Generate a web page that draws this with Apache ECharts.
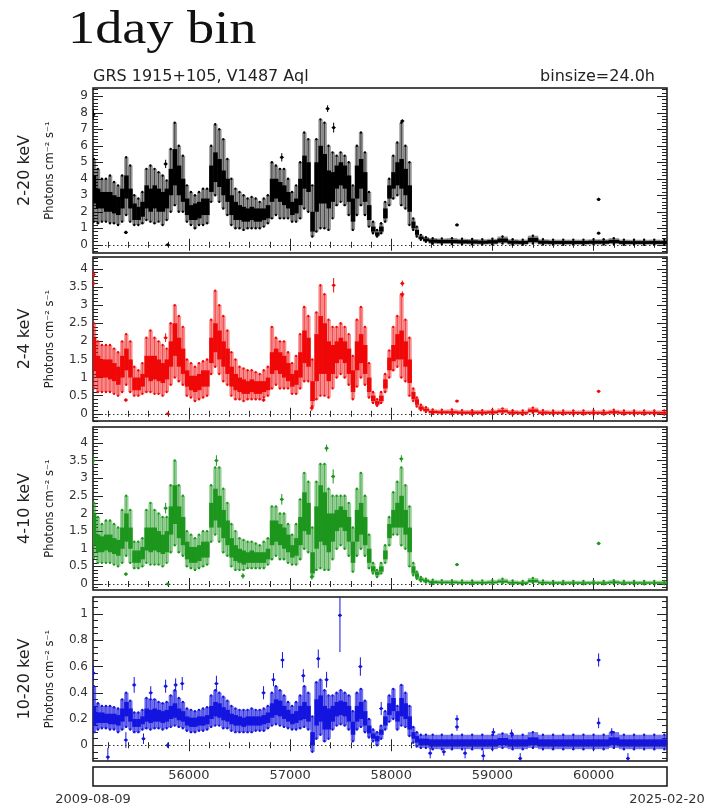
<!DOCTYPE html>
<html><head><meta charset="utf-8">
<script src="https://cdn.jsdelivr.net/npm/echarts@6/dist/echarts.min.js"></script>
<style>html,body{margin:0;padding:0;background:#fff}#c{width:706px;height:805px}</style>
</head><body><div id="c"></div>
<script>
// ---------------- data ----------------
const MJD_MIN = 55052, MJD_MAX = 60726;
const xMajorTicks = [56000, 57000, 58000, 59000, 60000];
const bandNames = ['2-20 keV', '2-4 keV', '4-10 keV', '10-20 keV'];
const yTicks_2_20 = [0,1,2,3,4,5,6,7,8,9];
const yTicks_2_4 = [0,0.5,1,1.5,2,2.5,3,3.5,4];
const yTicks_4_10 = [0,0.5,1,1.5,2,2.5,3,3.5,4];
const yTicks_10_20 = [0,0.2,0.4,0.6,0.8,1];

// time bins (MJD) of the daily light curve, summarised as [low, core-low, core-high, high]
const binMjd = [55060,55100,55140,55180,55220,55260,55300,55340,55380,55420,55460,55500,55540,55580,55620,55660,55700,55740,55780,55820,55860,55900,55940,55980,56020,56060,56100,56140,56180,56220,56260,56300,56340,56380,56420,56460,56500,56540,56580,56620,56660,56700,56740,56780,56820,56860,56900,56940,56980,57020,57060,57100,57140,57180,57220,57260,57300,57340,57380,57420,57460,57500,57540,57580,57620,57660,57700,57740,57780,57820,57860,57900,57940,57980,58020,58060,58100,58140,58180,58220,58250,58290,58340,58400,58500,58600,58700,58800,58900,59000,59100,59200,59300,59400,59500,59600,59700,59800,59900,60000,60100,60200,60300,60400,60500,60600,60700];

const flux_2_20 = [
[1.4,2.5,4.2,5.2],[1.3,2.2,3.4,4.6],[1.4,2.2,3.2,4.0],[1.4,2.0,3.2,4.0],[1.3,2.0,3.2,4.2],[1.3,1.9,3.0,3.8],[1.2,1.8,2.9,3.6],[1.4,2.2,3.4,4.2],[1.8,2.8,4.2,5.3],[1.4,2.2,3.4,4.8],
[1.2,1.5,2.5,3.0],[1.2,1.5,2.3,2.8],[1.3,1.7,2.6,3.2],[1.5,2.2,3.6,4.6],[1.4,2.0,3.4,4.8],[1.3,2.2,3.6,4.6],[1.4,2.0,3.4,4.4],[1.2,2.0,3.2,4.2],[1.5,2.2,3.4,3.9],[2.0,3.0,4.6,5.8],
[2.4,3.6,5.8,7.4],[2.0,3.0,4.8,6.0],[2.0,2.6,4.0,5.4],[1.4,1.8,2.8,3.6],[1.2,1.5,2.4,3.2],[1.0,1.5,2.5,3.0],[1.2,1.6,2.6,3.2],[1.2,1.8,2.8,3.4],[1.3,1.8,2.8,3.4],[2.6,3.2,4.8,6.0],
[3.0,3.8,5.6,7.3],[2.6,3.5,5.2,7.0],[2.2,3.0,4.5,6.4],[1.8,2.6,4.0,5.2],[1.2,1.8,3.0,4.0],[1.0,1.5,2.6,3.4],[1.0,1.5,2.4,3.2],[0.9,1.4,2.3,3.0],[1.0,1.4,2.2,2.8],[1.0,1.5,2.3,2.9],
[1.0,1.4,2.2,2.8],[1.0,1.4,2.2,2.6],[1.1,1.5,2.2,2.8],[1.3,1.6,2.4,3.0],[1.6,2.6,4.0,5.0],[1.8,2.8,4.0,4.8],[1.6,2.6,3.8,4.6],[1.6,2.4,3.6,4.6],[1.6,2.2,3.2,4.0],[1.4,1.8,2.6,3.2],
[1.4,1.9,2.8,3.6],[1.6,2.4,4.0,5.0],[2.2,3.4,5.4,6.8],[2.0,3.2,5.0,6.4],[0.5,0.8,2.0,3.6],[0.8,2.0,5.0,6.4],[1.0,2.5,6.0,7.6],[1.0,2.5,5.5,7.4],[0.9,2.2,4.5,6.0],[1.6,2.6,4.4,5.6],
[2.4,3.4,4.8,5.4],[2.6,3.6,5.0,5.6],[2.4,3.4,4.8,5.4],[1.8,2.6,4.2,5.0],[0.9,1.4,2.8,3.6],[1.8,2.8,4.8,6.0],[2.4,3.4,5.2,6.8],[1.8,2.6,4.4,5.6],[1.1,1.5,2.4,3.2],[0.7,0.8,1.1,1.4],
[0.5,0.55,0.75,0.9],[0.7,0.8,1.1,1.3],[1.4,1.6,2.2,2.6],[2.4,2.8,3.6,4.0],[2.8,3.4,4.4,5.4],[3.0,3.6,5.0,6.2],[2.4,3.4,5.2,7.4],[2.2,3.0,4.6,6.0],[1.2,2.0,3.6,5.0],[0.9,1.0,1.4,1.6],
[0.5,0.6,0.9,1.1],[0.3,0.35,0.5,0.6],[0.18,0.22,0.38,0.46],
[0.06,0.12,0.32,0.40],[0.04,0.10,0.30,0.38],[0.04,0.10,0.30,0.40],[0.03,0.08,0.28,0.36],[0.02,0.07,0.27,0.35],[0.01,0.06,0.25,0.33],[0.02,0.07,0.28,0.36],[0.08,0.14,0.38,0.50],
[0.0,0.06,0.25,0.33],[0.0,0.05,0.23,0.31],[0.08,0.16,0.42,0.55],[0.01,0.06,0.25,0.33],[0.0,0.05,0.23,0.31],[0.0,0.05,0.23,0.31],[0.0,0.05,0.23,0.31],[0.0,0.05,0.23,0.31],
[0.01,0.06,0.25,0.33],[0.01,0.06,0.25,0.33],[0.04,0.10,0.30,0.40],[0.0,0.05,0.23,0.31],[0.0,0.05,0.22,0.30],[0.0,0.05,0.22,0.30],[0.0,0.05,0.23,0.31],[0.0,0.05,0.22,0.30]
];

const flux_2_4 = [
[0.7,1.2,2.1,2.5],[0.6,1.0,1.6,2.0],[0.6,1.0,1.5,1.9],[0.6,1.0,1.5,1.9],[0.6,0.95,1.5,1.9],[0.55,0.9,1.4,1.8],[0.5,0.8,1.3,1.7],[0.6,1.0,1.6,2.0],[0.8,1.2,1.8,2.2],[0.6,1.0,1.5,2.0],
[0.5,0.65,1.0,1.3],[0.5,0.65,1.0,1.2],[0.55,0.75,1.1,1.4],[0.6,1.0,1.6,2.1],[0.6,0.9,1.6,2.3],[0.55,0.95,1.6,2.1],[0.55,0.9,1.5,2.0],[0.5,0.85,1.4,1.9],[0.6,0.95,1.5,1.8],[0.8,1.3,2.0,2.5],
[1.0,1.6,2.5,3.0],[0.9,1.3,2.1,2.7],[0.8,1.1,1.8,2.4],[0.5,0.75,1.2,1.5],[0.45,0.65,1.05,1.4],[0.35,0.6,1.05,1.3],[0.4,0.65,1.1,1.4],[0.45,0.75,1.2,1.45],[0.5,0.75,1.2,1.5],[1.1,1.4,2.1,2.6],
[1.3,1.7,2.5,3.4],[1.1,1.5,2.3,3.0],[0.9,1.3,2.0,2.7],[0.8,1.1,1.8,2.3],[0.5,0.75,1.3,1.7],[0.4,0.65,1.1,1.5],[0.4,0.6,1.0,1.3],[0.35,0.55,0.95,1.25],[0.4,0.55,0.9,1.2],[0.4,0.6,0.95,1.2],
[0.4,0.55,0.9,1.15],[0.4,0.55,0.9,1.1],[0.45,0.6,0.9,1.2],[0.5,0.65,1.0,1.3],[0.7,1.1,1.7,2.4],[0.8,1.2,1.8,2.1],[0.7,1.1,1.7,2.0],[0.7,1.0,1.6,2.0],[0.7,0.9,1.4,1.7],[0.55,0.75,1.1,1.4],
[0.55,0.8,1.2,1.6],[0.7,1.0,1.7,2.2],[0.9,1.4,2.3,2.95],[0.9,1.3,2.1,2.7],[0.2,0.35,0.9,1.5],[0.4,0.9,2.2,2.8],[0.5,1.1,2.7,3.55],[0.5,1.1,2.5,3.3],[0.45,0.9,2.0,2.6],[0.7,1.1,1.9,2.4],
[1.0,1.4,2.0,2.4],[1.1,1.5,2.1,2.5],[1.0,1.4,2.0,2.4],[0.8,1.1,1.8,2.2],[0.4,0.6,1.2,1.6],[0.75,1.2,2.0,2.6],[1.0,1.4,2.2,2.95],[0.8,1.1,1.9,2.4],[0.45,0.6,1.0,1.4],[0.3,0.35,0.5,0.6],
[0.22,0.25,0.35,0.4],[0.3,0.35,0.5,0.6],[0.6,0.7,0.95,1.1],[1.0,1.2,1.55,1.75],[1.2,1.45,1.9,2.4],[1.3,1.5,2.2,2.7],[1.0,1.5,2.3,3.3],[0.9,1.3,2.0,2.6],[0.5,0.85,1.5,2.1],[0.35,0.4,0.6,0.7],
[0.2,0.25,0.4,0.45],[0.1,0.12,0.2,0.25],[0.05,0.08,0.14,0.18],
[0.00,0.02,0.08,0.12],[-0.01,0.01,0.07,0.11],[-0.01,0.01,0.07,0.12],[-0.02,0.00,0.06,0.10],[-0.02,0.00,0.06,0.10],[-0.02,0.00,0.06,0.10],[-0.01,0.01,0.07,0.11],[0.01,0.04,0.10,0.15],
[-0.02,0.00,0.06,0.10],[-0.03,0.00,0.05,0.09],[0.02,0.05,0.12,0.17],[-0.02,0.00,0.06,0.10],[-0.02,0.00,0.05,0.09],[-0.02,0.00,0.05,0.09],[-0.02,0.00,0.05,0.09],[-0.02,0.00,0.05,0.09],
[-0.02,0.00,0.05,0.09],[-0.02,0.00,0.05,0.09],[-0.01,0.01,0.07,0.11],[-0.02,0.00,0.05,0.09],[-0.02,0.00,0.05,0.09],[-0.02,0.00,0.05,0.09],[-0.02,0.00,0.05,0.09],[-0.02,0.00,0.05,0.09]
];

const flux_4_10 = [
[0.75,1.1,2.0,2.3],[0.6,0.9,1.4,1.9],[0.6,0.9,1.35,1.7],[0.6,0.95,1.4,1.8],[0.6,0.9,1.4,1.8],[0.55,0.85,1.3,1.7],[0.5,0.8,1.25,1.6],[0.6,1.0,1.6,2.1],[0.8,1.2,2.0,2.5],[0.6,1.0,1.6,2.1],
[0.45,0.6,0.95,1.2],[0.45,0.6,0.95,1.2],[0.5,0.7,1.05,1.3],[0.6,0.95,1.6,2.1],[0.55,0.9,1.6,2.3],[0.55,0.95,1.6,2.1],[0.55,0.9,1.5,2.0],[0.5,0.85,1.4,1.9],[0.6,0.9,1.5,1.9],[0.9,1.4,2.2,2.8],
[1.1,1.7,2.8,3.5],[0.9,1.3,2.2,2.8],[0.8,1.1,1.9,2.5],[0.5,0.7,1.2,1.5],[0.45,0.6,1.05,1.4],[0.4,0.6,1.05,1.3],[0.45,0.65,1.1,1.4],[0.5,0.75,1.2,1.5],[0.55,0.75,1.2,1.5],[1.2,1.6,2.3,2.8],
[1.4,1.8,2.7,3.3],[1.2,1.6,2.5,3.3],[0.9,1.3,2.1,2.7],[0.8,1.1,1.8,2.3],[0.5,0.75,1.3,1.7],[0.4,0.65,1.1,1.5],[0.4,0.6,1.0,1.3],[0.4,0.55,0.95,1.25],[0.45,0.6,0.9,1.2],[0.45,0.6,0.95,1.2],
[0.45,0.6,0.9,1.15],[0.45,0.6,0.9,1.1],[0.45,0.6,0.9,1.2],[0.55,0.7,1.0,1.3],[0.7,1.1,1.8,2.2],[0.8,1.2,1.8,2.2],[0.7,1.1,1.7,2.0],[0.7,1.0,1.6,2.0],[0.6,0.9,1.4,1.7],[0.55,0.75,1.1,1.4],
[0.55,0.8,1.3,1.7],[0.7,1.1,1.9,2.4],[1.0,1.5,2.6,3.15],[0.9,1.4,2.3,2.9],[0.2,0.3,0.9,1.6],[0.4,1.0,2.2,2.9],[0.45,1.2,2.8,3.4],[0.4,1.1,2.6,3.4],[0.4,0.9,2.0,2.7],[0.7,1.2,2.0,2.5],
[1.0,1.5,2.1,2.5],[1.1,1.6,2.2,2.5],[1.0,1.5,2.1,2.5],[0.8,1.2,1.9,2.3],[0.35,0.6,1.2,1.6],[0.8,1.2,2.1,2.7],[1.0,1.4,2.3,3.15],[0.8,1.1,1.9,2.5],[0.45,0.6,1.0,1.4],[0.3,0.35,0.5,0.6],
[0.2,0.25,0.35,0.4],[0.3,0.35,0.5,0.6],[0.6,0.7,0.95,1.1],[1.1,1.3,1.7,1.9],[1.4,1.6,2.1,2.6],[1.4,1.6,2.3,2.9],[1.1,1.6,2.5,3.3],[1.0,1.4,2.1,2.8],[0.5,0.9,1.6,2.2],[0.25,0.3,0.5,0.6],
[0.15,0.18,0.3,0.35],[0.08,0.1,0.16,0.2],[0.04,0.06,0.12,0.15],
[0.00,0.02,0.08,0.12],[0.00,0.02,0.07,0.11],[0.00,0.02,0.07,0.11],[-0.01,0.01,0.06,0.10],[-0.01,0.01,0.06,0.10],[-0.01,0.01,0.06,0.10],[0.00,0.02,0.07,0.11],[0.02,0.04,0.10,0.15],
[-0.01,0.01,0.06,0.10],[-0.02,0.00,0.05,0.09],[0.03,0.05,0.12,0.17],[-0.01,0.01,0.06,0.10],[-0.01,0.01,0.05,0.09],[-0.01,0.01,0.05,0.09],[-0.01,0.01,0.05,0.09],[-0.01,0.01,0.05,0.09],
[-0.01,0.01,0.05,0.09],[-0.01,0.01,0.05,0.09],[0.00,0.02,0.07,0.11],[-0.01,0.01,0.05,0.09],[-0.01,0.01,0.05,0.09],[-0.01,0.01,0.05,0.09],[-0.01,0.01,0.05,0.09],[-0.01,0.01,0.05,0.09]
];

const flux_10_20 = [
[0.1,0.15,0.3,0.45],[0.12,0.17,0.25,0.32],[0.13,0.17,0.25,0.3],[0.13,0.17,0.24,0.3],[0.12,0.16,0.24,0.3],[0.12,0.16,0.24,0.29],[0.1,0.15,0.23,0.28],[0.12,0.18,0.28,0.35],[0.14,0.22,0.33,0.4],[0.12,0.18,0.28,0.34],
[0.1,0.14,0.2,0.25],[0.1,0.14,0.2,0.25],[0.12,0.16,0.22,0.27],[0.13,0.18,0.28,0.36],[0.12,0.17,0.27,0.35],[0.13,0.18,0.28,0.35],[0.13,0.18,0.27,0.33],[0.12,0.17,0.26,0.32],[0.13,0.18,0.27,0.33],[0.14,0.2,0.3,0.38],
[0.15,0.21,0.32,0.42],[0.14,0.19,0.28,0.36],[0.13,0.18,0.26,0.33],[0.11,0.15,0.22,0.28],[0.1,0.14,0.21,0.27],[0.1,0.14,0.21,0.26],[0.11,0.15,0.22,0.27],[0.11,0.15,0.22,0.28],[0.12,0.16,0.23,0.29],[0.14,0.2,0.3,0.38],
[0.15,0.22,0.33,0.42],[0.15,0.21,0.32,0.4],[0.13,0.19,0.29,0.37],[0.13,0.18,0.27,0.34],[0.11,0.16,0.24,0.3],[0.1,0.15,0.23,0.28],[0.1,0.15,0.22,0.27],[0.1,0.14,0.21,0.27],[0.1,0.15,0.22,0.27],[0.1,0.15,0.22,0.28],
[0.11,0.15,0.22,0.27],[0.11,0.15,0.22,0.27],[0.11,0.16,0.23,0.28],[0.13,0.17,0.25,0.3],[0.15,0.21,0.32,0.4],[0.16,0.23,0.35,0.45],[0.15,0.22,0.34,0.42],[0.14,0.2,0.3,0.38],[0.13,0.18,0.27,0.33],[0.12,0.16,0.24,0.3],
[0.12,0.17,0.26,0.33],[0.13,0.19,0.3,0.38],[0.14,0.2,0.33,0.45],[0.12,0.18,0.3,0.4],[-0.05,0.0,0.1,0.22],[0.05,0.15,0.35,0.48],[0.08,0.18,0.38,0.5],[0.03,0.12,0.3,0.42],[0.05,0.12,0.28,0.38],[0.12,0.18,0.3,0.38],
[0.15,0.22,0.33,0.4],[0.16,0.23,0.34,0.42],[0.15,0.22,0.33,0.4],[0.12,0.18,0.3,0.38],[0.03,0.08,0.18,0.26],[0.12,0.18,0.3,0.4],[0.14,0.2,0.33,0.43],[0.1,0.15,0.26,0.34],[0.06,0.09,0.15,0.2],[0.03,0.05,0.09,0.12],
[0.0,0.03,0.07,0.1],[0.05,0.08,0.12,0.15],[0.12,0.15,0.22,0.26],[0.18,0.23,0.32,0.38],[0.2,0.26,0.36,0.43],[0.12,0.18,0.26,0.3],[0.15,0.22,0.36,0.46],[0.14,0.2,0.32,0.4],[0.07,0.12,0.22,0.3],[0.02,0.05,0.1,0.14],
[-0.01,0.02,0.07,0.1],[-0.02,0.0,0.05,0.08],[-0.02,0.0,0.05,0.08],
[-0.03,-0.01,0.045,0.08],[-0.03,-0.01,0.045,0.08],[-0.03,-0.01,0.045,0.08],[-0.03,-0.01,0.045,0.08],[-0.03,-0.01,0.045,0.08],[-0.03,-0.01,0.045,0.08],[-0.03,-0.01,0.045,0.08],[-0.02,0.0,0.055,0.09],
[-0.03,-0.01,0.045,0.08],[-0.03,-0.01,0.045,0.08],[-0.02,0.0,0.06,0.1],[-0.03,-0.01,0.045,0.08],[-0.03,-0.01,0.045,0.08],[-0.03,-0.01,0.045,0.08],[-0.03,-0.01,0.045,0.08],[-0.03,-0.01,0.045,0.08],
[-0.03,-0.01,0.045,0.08],[-0.03,-0.01,0.045,0.08],[-0.02,0.0,0.06,0.1],[-0.03,-0.01,0.045,0.08],[-0.03,-0.01,0.045,0.08],[-0.03,-0.01,0.045,0.08],[-0.03,-0.01,0.045,0.08],[-0.03,-0.01,0.045,0.08]
];

// isolated daily points [MJD, flux, error]
const pts_2_20 = [[55056,7.9,0.3],[55377,0.75,0.1],[55790,0.0,0.05],[55770,4.9,0.25],[56918,5.3,0.25],[57371,8.25,0.2],[57431,7.1,0.3],[58110,7.5,0.1],[58650,1.2,0.05],[60050,2.75,0.1],[60050,0.7,0.05]];
const pts_2_4 = [[55055,3.6,0.1],[55058,3.85,0.1],[55377,0.38,0.05],[55790,0.0,0.03],[55770,2.1,0.12],[56738,0.38,0.05],[57215,0.16,0.08],[57431,3.55,0.2],[58110,3.6,0.08],[58110,3.3,0.08],[58650,0.35,0.03],[60050,0.62,0.04]];
const pts_4_10 = [[55055,3.5,0.15],[55377,0.28,0.05],[55790,0.0,0.04],[55770,2.15,0.15],[56272,3.5,0.15],[56534,0.23,0.08],[56918,2.4,0.15],[57215,0.2,0.08],[57361,3.85,0.1],[57426,3.05,0.2],[58100,3.55,0.1],[58650,0.55,0.03],[60050,1.15,0.05]];
const pts_10_20 = [[55056,0.55,0.06],[55199,-0.09,0.07],[55377,0.04,0.06],[55459,0.46,0.06],[55551,0.05,0.04],[55623,0.4,0.05],[55770,0.45,0.05],[55790,0.0,0.02],[55869,0.46,0.05],[55934,0.47,0.05],[56272,0.47,0.06],[56738,0.4,0.05],[56836,0.5,0.05],[56925,0.65,0.06],[57131,0.53,0.05],[57279,0.66,0.07],[57361,0.5,0.06],[57493,0.99,0.28],[57695,0.6,0.07],[57901,0.28,0.05],
[58385,-0.06,0.04],[58520,-0.05,0.03],[58650,0.2,0.03],[58650,0.14,0.03],[58730,-0.06,0.04],[58910,-0.08,0.04],[59010,0.1,0.03],[59190,0.09,0.03],[59275,-0.1,0.04],[60050,0.65,0.05],[60050,0.17,0.04],[60180,0.1,0.03],[60340,-0.1,0.04]];

// ---------------- chart ----------------
const FONT = 'DejaVu Sans';
const panels = [
  {name: bandNames[0], color: '#000000', env: 0.42, bins: flux_2_20, pts: pts_2_20, ymin: -0.5, ymax: 9.5, ticks: yTicks_2_20, minor: 0.2, top: 88, height: 165},
  {name: bandNames[1], color: '#f00808', env: 0.45, bins: flux_2_4, pts: pts_2_4, ymin: -0.2, ymax: 4.33, ticks: yTicks_2_4, minor: 0.1, top: 257, height: 164},
  {name: bandNames[2], color: '#1c961c', env: 0.45, bins: flux_4_10, pts: pts_4_10, ymin: -0.17, ymax: 4.45, ticks: yTicks_4_10, minor: 0.1, top: 427, height: 163},
  {name: bandNames[3], color: '#1414e0', env: 0.6, bins: flux_10_20, pts: pts_10_20, ymin: -0.12, ymax: 1.13, ticks: yTicks_10_20, minor: 0.05, top: 597, height: 164}
];
const GL = 93, GR = 39;

function stepValues(min, max, step) {
  const out = [];
  for (let v = Math.ceil(min / step) * step; v <= max + 1e-9; v += step) out.push(Math.round(v * 1000) / 1000);
  return out;
}
const xMinorTicks = stepValues(MJD_MIN, MJD_MAX, 200);

function mjdToDate(m) {
  return new Date(Math.round((m - 40587) * 86400000)).toISOString().slice(0, 10);
}

function bandRender(rows, color, env) {
  return function (params, api) {
    const i = params.dataIndex;
    const t = rows[i][0];
    const tp = i > 0 ? rows[i - 1][0] : 2 * t - rows[i + 1][0];
    const tn = i < rows.length - 1 ? rows[i + 1][0] : 2 * t - rows[i - 1][0];
    const xl = api.coord([(tp + t) / 2, 0])[0];
    const xr = api.coord([(tn + t) / 2, 0])[0];
    const yLo = api.coord([t, rows[i][1]])[1];
    const yQlo = api.coord([t, rows[i][2]])[1];
    const yQhi = api.coord([t, rows[i][3]])[1];
    const yHi = api.coord([t, rows[i][4]])[1];
    const w = xr - xl;
    const xc = (xl + xr) / 2;
    const ch = [];
    ch.push({type: 'rect', shape: {x: xl, y: yHi, width: w + 0.3, height: yLo - yHi}, style: {fill: color, opacity: env}});
    ch.push({type: 'line', shape: {x1: xc, y1: yHi, x2: xc, y2: yLo}, style: {stroke: color, lineWidth: 0.8, opacity: 0.7}});
    ch.push({type: 'rect', shape: {x: xl, y: yQhi, width: w + 0.5, height: Math.max(1.5, yQlo - yQhi)}, style: {fill: color}});
    ch.push({type: 'circle', shape: {cx: xc, cy: yHi, r: 1.2}, style: {fill: color}});
    ch.push({type: 'circle', shape: {cx: xc, cy: yLo, r: 1.2}, style: {fill: color}});
    return {type: 'group', children: ch};
  };
}
function errRender(color) {
  return function (params, api) {
    const t = api.value(0), v = api.value(1), e = api.value(2);
    const p = api.coord([t, v]);
    const y1 = api.coord([t, v + e])[1], y2 = api.coord([t, v - e])[1];
    return {type: 'group', children: [
      {type: 'line', shape: {x1: p[0], y1: y1, x2: p[0], y2: y2}, style: {stroke: color, lineWidth: 1}},
      {type: 'line', shape: {x1: p[0] - 2, y1: p[1], x2: p[0] + 2, y2: p[1]}, style: {stroke: color, lineWidth: 1}},
      {type: 'circle', shape: {cx: p[0], cy: p[1], r: 1.6}, style: {fill: color}}
    ]};
  };
}

const grid = [], xAxis = [], yAxis = [], series = [];
const tickLine = {color: '#222', width: 1};
const labelStyle = {fontFamily: FONT, fontSize: 12, color: '#333'};
const plain = v => String(v);

panels.forEach((p, gi) => {
  grid.push({left: GL, right: GR, top: p.top, height: p.height, show: true, borderColor: '#111', borderWidth: 1.5, backgroundColor: 'transparent', outerBoundsMode: 'none'});
  const xi = xAxis.length, yi = yAxis.length;
  const xBase = {gridIndex: gi, type: 'value', min: MJD_MIN, max: MJD_MAX, axisLine: {show: false}, axisLabel: {show: false}, splitLine: {show: false}};
  ['bottom', 'top'].forEach(pos => {
    xAxis.push(Object.assign({}, xBase, {position: pos, axisTick: {show: true, inside: true, length: 6, lineStyle: tickLine, customValues: xMajorTicks}}));
    xAxis.push(Object.assign({}, xBase, {position: pos, axisTick: {show: true, inside: true, length: 3, lineStyle: tickLine, customValues: xMinorTicks}}));
  });
  const yBase = {gridIndex: gi, type: 'value', min: p.ymin, max: p.ymax, axisLine: {show: false}, splitLine: {show: false}};
  yAxis.push(Object.assign({}, yBase, {position: 'left', axisTick: {show: true, inside: true, length: 10, lineStyle: tickLine, customValues: p.ticks},
    axisLabel: Object.assign({show: true, margin: 5, customValues: p.ticks, formatter: plain}, labelStyle),
    name: p.name, nameLocation: 'middle', nameRotate: 90, nameGap: 60, nameTextStyle: {fontFamily: FONT, fontSize: 16, color: '#222'}}));
  yAxis.push(Object.assign({}, yBase, {position: 'left', axisTick: {show: true, inside: true, length: 5, lineStyle: tickLine, customValues: stepValues(p.ymin, p.ymax, p.minor)},
    axisLabel: {show: false},
    name: 'Photons cm\u207B\u00B2 s\u207B\u00B9', nameLocation: 'middle', nameRotate: 90, nameGap: 37, nameTextStyle: {fontFamily: FONT, fontSize: 11.5, color: '#222'}}));
  yAxis.push(Object.assign({}, yBase, {position: 'right', axisTick: {show: true, inside: true, length: 10, lineStyle: tickLine, customValues: p.ticks}, axisLabel: {show: false}}));
  yAxis.push(Object.assign({}, yBase, {position: 'right', axisTick: {show: true, inside: true, length: 5, lineStyle: tickLine, customValues: stepValues(p.ymin, p.ymax, p.minor)}, axisLabel: {show: false}}));

  const rows = binMjd.map((t, i) => [t].concat(p.bins[i]));
  series.push({type: 'line', xAxisIndex: xi, yAxisIndex: yi, data: [], silent: true, z: 1,
    markLine: {silent: true, symbol: 'none', label: {show: false}, lineStyle: {type: [1.5, 2.5], color: '#333', width: 1}, data: [{yAxis: 0}]}});
  series.push({type: 'custom', xAxisIndex: xi, yAxisIndex: yi, clip: true, z: 3, silent: true,
    renderItem: bandRender(rows, p.color, p.env), encode: {x: 0, y: [1, 4]}, data: rows});
  series.push({type: 'custom', xAxisIndex: xi, yAxisIndex: yi, clip: true, z: 4, silent: true,
    renderItem: errRender(p.color), encode: {x: 0, y: 1}, data: p.pts});
});

// bottom strip with MJD labels and start/end dates
grid.push({left: GL, right: GR, top: 767, height: 19, show: true, borderColor: '#111', borderWidth: 1.5, backgroundColor: 'transparent', outerBoundsMode: 'none'});
xAxis.push({gridIndex: 4, type: 'value', min: MJD_MIN, max: MJD_MAX, position: 'bottom', axisLine: {show: false}, axisTick: {show: false}, splitLine: {show: false},
  axisLabel: Object.assign({show: true, inside: true, margin: 4, customValues: xMajorTicks, formatter: plain}, labelStyle, {fontSize: 13})});
xAxis.push({gridIndex: 4, type: 'value', min: MJD_MIN, max: MJD_MAX, position: 'bottom', axisLine: {show: false}, axisTick: {show: false}, splitLine: {show: false},
  axisLabel: Object.assign({show: true, margin: 7, customValues: [MJD_MIN, MJD_MAX], formatter: v => mjdToDate(v)}, labelStyle, {fontSize: 13})});
yAxis.push({gridIndex: 4, type: 'value', min: 0, max: 1, show: false});

const chart = echarts.init(document.getElementById('c'), null, {renderer: 'canvas'});
chart.setOption({
  animation: false,
  backgroundColor: '#ffffff',
  grid, xAxis, yAxis, series,
  graphic: [
    {type: 'text', left: 68, top: 8, scaleX: 1.18, style: {text: '1day bin', fontFamily: 'Liberation Serif', fontSize: 46, fill: '#111'}},
    {type: 'text', x: 93, y: 77, style: {text: 'GRS 1915+105, V1487 Aql', fontFamily: FONT, fontSize: 16, fill: '#222', verticalAlign: 'middle', align: 'left'}},
    {type: 'text', x: 655, y: 77, style: {text: 'binsize=24.0h', fontFamily: FONT, fontSize: 16, fill: '#222', verticalAlign: 'middle', align: 'right'}}
  ]
});
</script>
</body></html>
